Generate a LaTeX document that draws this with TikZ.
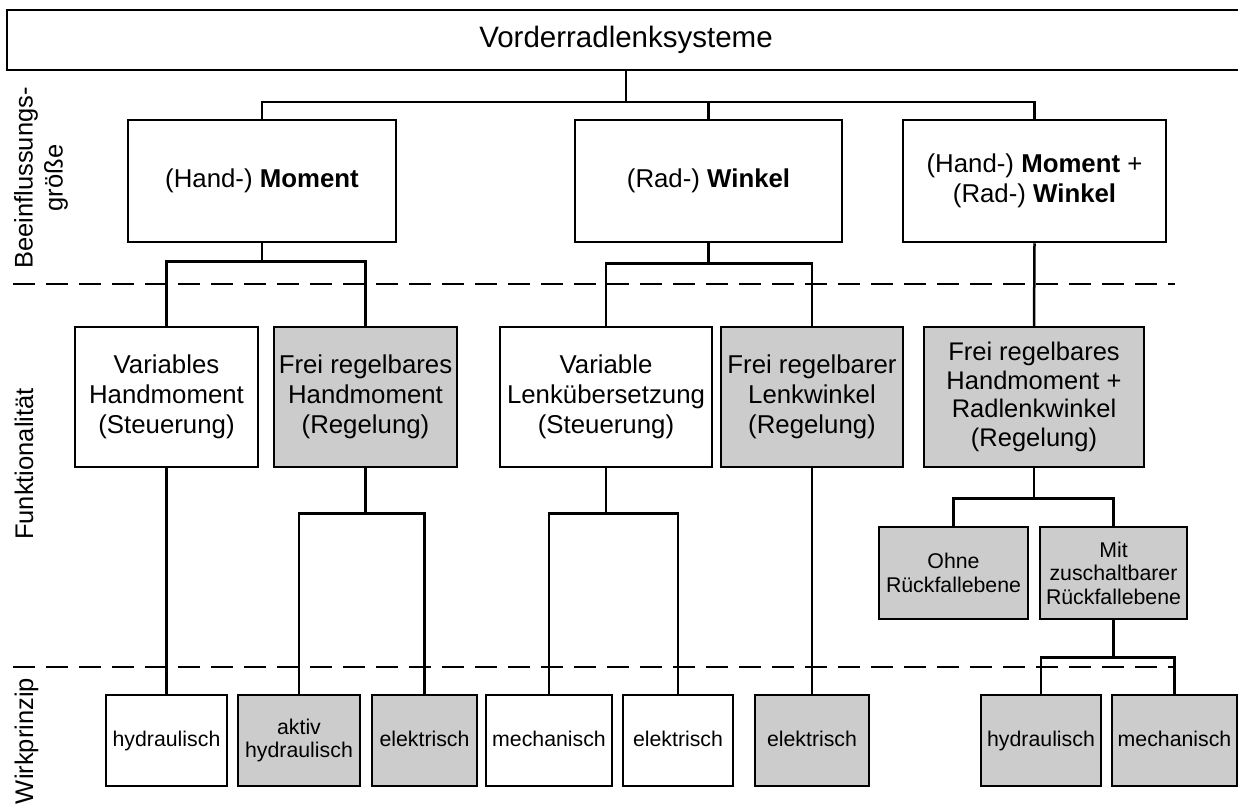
\documentclass[tikz,border=0pt]{standalone}
\usepackage{fontspec}
\setmainfont{Liberation Sans}
\usepackage{xcolor}
\definecolor{boxgray}{gray}{0.8}

\begin{document}
\begin{tikzpicture}[x=1pt,y=-1pt,line width=2.5pt,
  box/.style={draw, rectangle, inner sep=1pt, align=center},
  bigfont/.style={font=\fontsize{25.8}{30}\selectfont},
  smallfont/.style={font=\fontsize{21.3}{23.5}\selectfont},
  oneline/.style={text height=15.3pt, text depth=2.9pt},
  grayfill/.style={fill=boxgray},
  level/.style={rotate=90, inner sep=0pt, font=\fontsize{25.5}{30}\selectfont, align=center},
  sep/.style={dash pattern=on 22pt off 11pt}]
\useasboundingbox (0,0) rectangle (1238,803);
% Kopf
\node[box, minimum width=1238pt, minimum height=60pt, font=\fontsize{29.5}{34}\selectfont](top) at (626,40){Vorderradlenksysteme};
% Beeinflussungsgroesse
\node[box, bigfont, minimum width=268pt, minimum height=122pt](moment) at (262,181){(Hand-) \textbf{Moment}};
\node[box, bigfont, minimum width=267pt, minimum height=122pt](winkel) at (708.5,181){(Rad-) \textbf{Winkel}};
\node[box, bigfont, minimum width=263pt, minimum height=122pt](mw) at (1034.5,181){(Hand-) \textbf{Moment} +\\(Rad-) \textbf{Winkel}};
% Funktionalitaet
\node[box, bigfont, minimum width=183pt, minimum height=140pt](vh) at (166.5,397){Variables\\Handmoment\\(Steuerung)};
\node[box, bigfont, grayfill, minimum width=183pt, minimum height=140pt](fh) at (365.5,397){Frei regelbares\\Handmoment\\(Regelung)};
\node[box, bigfont, minimum width=212pt, minimum height=140pt](vl) at (606,397){Variable\\Lenkübersetzung\\(Steuerung)};
\node[box, bigfont, grayfill, minimum width=182pt, minimum height=140pt](fl) at (812,397){Frei regelbarer\\Lenkwinkel\\(Regelung)};
\node[box, grayfill, minimum width=220pt, minimum height=140pt, font=\fontsize{25.5}{28.5}\selectfont](fhr) at (1034,397){Frei regelbares\\Handmoment +\\Radlenkwinkel\\(Regelung)};
\node[box, smallfont, grayfill, minimum width=149pt, minimum height=92pt](ohne) at (953.5,573){Ohne\\Rückfallebene};
\node[box, smallfont, grayfill, minimum width=147pt, minimum height=92pt](mit) at (1113.5,573){Mit\\zuschaltbarer\\Rückfallebene};
% Wirkprinzip
\node[box, smallfont, oneline, minimum width=121pt, minimum height=91pt](hyd1) at (166.5,740.5){hydraulisch};
\node[box, smallfont, grayfill, minimum width=122pt, minimum height=91pt](akt) at (299,740.5){aktiv\\hydraulisch};
\node[box, smallfont, oneline, grayfill, minimum width=105pt, minimum height=91pt](el1) at (424.5,740.5){elektrisch};
\node[box, smallfont, oneline, minimum width=126pt, minimum height=91pt](mech1) at (549,740.5){mechanisch};
\node[box, smallfont, oneline, minimum width=110pt, minimum height=91pt](el2) at (678,740.5){elektrisch};
\node[box, smallfont, oneline, grayfill, minimum width=114pt, minimum height=91pt](el3) at (812,740.5){elektrisch};
\node[box, smallfont, oneline, grayfill, minimum width=120pt, minimum height=91pt](hyd2) at (1041,740.5){hydraulisch};
\node[box, smallfont, oneline, grayfill, minimum width=125pt, minimum height=91pt](mech2) at (1174.5,740.5){mechanisch};
% Ebenen
\node[level](lab1) at (41,178){Beeinflussungs-\\größe};
\node[level, anchor=base](lab2) at (33,464){Funktionalität};
\node[level, anchor=base](lab3) at (33,741){Wirkprinzip};
\coordinate (d1a) at (13,284);
\coordinate (d1b) at (1175,284);
\coordinate (d2a) at (13,667);
\coordinate (d2b) at (1175,667);
\draw[sep] (d1a) -- (d1b);
\draw[sep] (d2a) -- (d2b);
% Verbindungen
\coordinate (j0) at (626,102);
\draw (top.south) -- (j0);
\draw (moment.north) |- (j0) -| (mw.north);
\draw (winkel.north) -- (winkel.north |- j0);
\draw (moment.south) -- ++(0,18) coordinate (j1);
\draw (vh.north) |- (j1) -| (fh.north);
\draw (winkel.south) -- ++(0,20) coordinate (j2);
\draw (vl.north) |- (j2) -| (fl.north);
\draw (mw.south) -- (fhr.north);
\draw (vh.south) -- (hyd1.north);
\draw (fh.south) -- ++(0,45) coordinate (j3);
\draw (akt.north) |- (j3) -| (el1.north);
\draw (vl.south) -- ++(0,45) coordinate (j4);
\draw (mech1.north) |- (j4) -| (el2.north);
\draw (fl.south) -- (el3.north);
\draw (fhr.south) -- ++(0,30) coordinate (j5);
\draw (ohne.north) |- (j5) -| (mit.north);
\draw (mit.south) -- ++(0,37) coordinate (j6);
\draw (hyd2.north) |- (j6) -| (mech2.north);
\end{tikzpicture}
\end{document}
